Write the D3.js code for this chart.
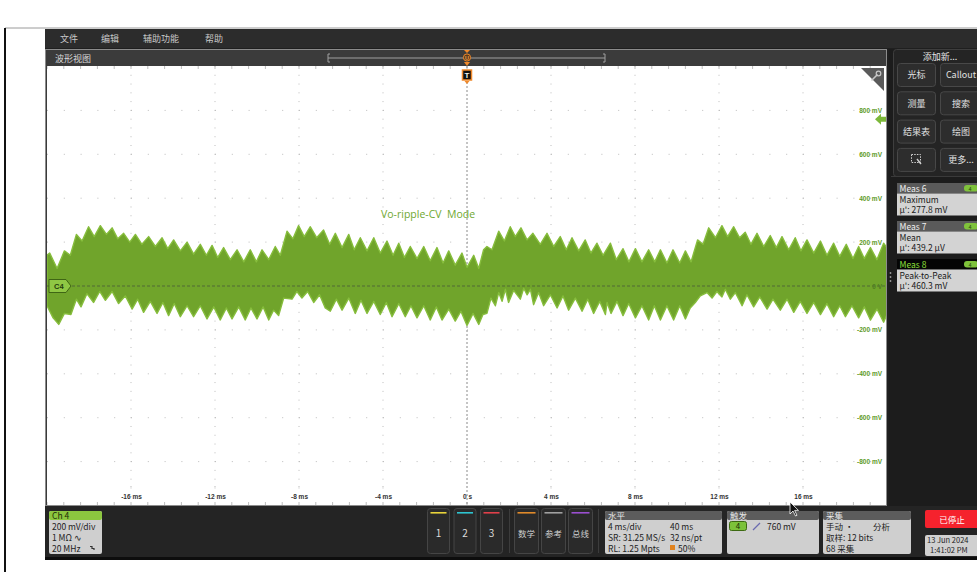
<!DOCTYPE html>
<html>
<head>
<meta charset="utf-8">
<script src="https://cdn.jsdelivr.net/npm/d3@7"></script>
<style>
  body { margin: 0; background: #ffffff; }
  svg { display: block; }
</style>
</head>
<body>
<svg id="scope" width="977" height="572"></svg>
<script>
// ---- Axis ticks ----
const xTicks = [-16, -12, -8, -4, 0, 4, 8, 12, 16];          // ms
const xTickLabels = ["-16 ms", "-12 ms", "-8 ms", "-4 ms", "0 s", "4 ms", "8 ms", "12 ms", "16 ms"];
const yTicks = [800, 600, 400, 200, 0, -200, -400, -600, -800]; // mV
const yTickLabels = ["800 mV", "600 mV", "400 mV", "200 mV", "0 V", "-200 mV", "-400 mV", "-600 mV", "-800 mV"];

// ---- Ch4 ripple envelope (time in ms, level in mV) ----
const upperT = [-20.00,-19.87,-19.52,-19.17,-18.89,-18.60,-18.33,-18.02,-17.75,-17.46,-17.17,-16.90,-16.63,-16.35,-16.06,-15.79,-15.48,-15.16,-14.84,-14.52,-14.25,-13.97,-13.65,-13.33,-13.02,-12.70,-12.41,-12.14,-11.87,-11.59,-11.27,-10.95,-10.63,-10.32,-10.03,-9.76,-9.44,-9.13,-8.89,-8.57,-8.29,-8.02,-7.75,-7.46,-7.16,-6.83,
  -6.54,-6.27,-5.95,-5.63,-5.37,-5.08,-4.76,-4.44,-4.13,-3.81,-3.52,-3.25,-2.98,-2.70,-2.38,-2.06,-1.75,-1.43,-1.14,-0.87,-0.56,-0.24,0.00,0.32,0.56,0.79,0.95,1.19,1.51,1.78,2.06,2.30,2.57,2.86,3.14,3.49,3.81,4.13,4.44,4.73,5.00,5.32,5.63,5.90,6.19,6.48,
  6.83,7.11,7.43,7.71,8.02,8.33,8.65,8.94,9.21,9.52,9.81,10.13,10.40,10.67,10.98,11.24,11.51,11.83,12.14,12.41,12.70,12.98,13.25,13.52,13.81,14.13,14.44,14.73,15.00,15.32,15.63,15.90,16.19,16.51,16.83,17.14,17.46,17.75,18.06,18.38,18.65,18.92,19.21,19.52,19.84,20.00];
const upperV = [140,150,80,160,140,235,205,270,225,275,235,265,215,240,200,235,190,225,180,220,170,210,160,200,145,190,140,185,130,175,120,165,110,165,110,165,120,180,140,250,215,275,225,270,220,255,
  190,240,175,235,165,220,160,220,150,205,140,195,130,180,125,180,115,175,105,160,95,150,85,140,80,165,180,165,250,205,270,225,265,210,240,190,240,180,225,165,220,160,210,150,195,140,
  195,120,170,110,170,110,165,110,165,105,165,105,160,110,210,190,265,220,275,225,270,220,245,190,240,180,230,175,225,165,220,160,210,150,205,140,195,135,190,125,180,125,175,120,195,175];
const lowerT = [-20.00,-19.71,-19.44,-19.17,-18.86,-18.60,-18.38,-18.10,-17.78,-17.49,-17.22,-16.90,-16.59,-16.27,-15.95,-15.68,-15.40,-15.08,-14.76,-14.48,-14.21,-13.94,-13.65,-13.33,-13.02,-12.70,-12.38,-12.06,-11.75,-11.46,-11.19,-10.87,-10.56,-10.29,-10.00,-9.71,-9.44,-9.21,-8.97,-8.73,-8.33,-8.10,-7.86,-7.59,-7.30,-7.02,-6.75,
  -6.51,-6.22,-5.95,-5.63,-5.32,-5.05,-4.76,-4.44,-4.13,-3.84,-3.57,-3.25,-2.94,-2.67,-2.38,-2.06,-1.75,-1.46,-1.19,-0.87,-0.56,-0.29,0.00,0.29,0.56,0.76,0.95,1.14,1.35,1.51,1.67,1.83,1.98,2.22,2.54,2.70,2.86,3.02,3.17,3.41,3.65,3.97,4.29,4.57,4.84,5.16,5.48,5.75,6.03,6.32,6.59,
  6.67,6.86,7.14,7.43,7.70,8.02,8.33,8.65,8.92,9.21,9.52,9.84,10.13,10.40,10.63,10.87,11.11,11.43,11.67,11.90,12.14,12.30,12.54,12.78,13.10,13.33,13.65,13.94,14.29,14.57,14.92,15.24,15.56,15.87,16.19,16.51,16.83,17.14,17.46,17.75,18.02,18.33,18.65,18.92,19.21,19.52,19.84,20.00];
const lowerV = [-90,-145,-175,-125,-130,-60,-95,-35,-75,-25,-65,-25,-80,-45,-105,-60,-120,-70,-125,-75,-135,-80,-140,-90,-140,-90,-150,-95,-155,-100,-150,-95,-155,-100,-150,-95,-155,-110,-135,-55,-60,-25,-55,-25,-75,-40,-100,
  -115,-60,-110,-55,-125,-65,-125,-70,-130,-75,-140,-80,-140,-90,-145,-90,-155,-95,-155,-105,-160,-115,-180,-125,-175,-130,-125,-55,-90,-30,-70,-15,-75,-20,-60,-10,-40,-15,-85,-30,-90,-40,-100,-45,-110,-55,-115,-60,-125,-70,-130,
  -75,-125,-70,-135,-80,-145,-90,-155,-90,-155,-90,-155,-90,-150,-100,-75,-45,-30,-55,-25,-50,-15,-60,-30,-90,-40,-95,-50,-105,-60,-110,-60,-120,-70,-125,-75,-130,-80,-140,-90,-140,-90,-145,-95,-155,-105,-165,-130];

const triggerLevel = 760; // mV

// ---- Measurement badges ----
const measNames = ["Meas 6", "Meas 7", "Meas 8"];
const measTypes = ["Maximum", "Mean", "Peak-to-Peak"];
const measValues = ["μ': 277.8 mV", "μ': 439.2 μV", "μ': 460.3 mV"];

const menuItems = ["文件", "编辑", "辅助功能", "帮助"];
const panelButtons = [["光标", "Callout"], ["测量", "搜索"], ["结果表", "绘图"], ["", "更多..."]];

const UI = "'Noto Sans CJK SC','Noto Sans',sans-serif";
const svg = d3.select("#scope");

// ---- Page frame ----
svg.append("rect").attr("width", 977).attr("height", 572).attr("fill", "#ffffff");
svg.append("line").attr("x1", 5).attr("x2", 977).attr("y1", 28).attr("y2", 28).attr("stroke", "#9a9a9a").attr("stroke-width", 1);
svg.append("line").attr("x1", 5).attr("x2", 5).attr("y1", 28).attr("y2", 572).attr("stroke", "#111").attr("stroke-width", 2);

// ---- Application window ----
svg.append("rect").attr("x", 45).attr("y", 29).attr("width", 932).attr("height", 531).attr("fill", "#0d0d0d");
svg.append("rect").attr("x", 45).attr("y", 29).attr("width", 932).attr("height", 528).attr("fill", "#1f1f1f");
svg.append("rect").attr("x", 45).attr("y", 29).attr("width", 932).attr("height", 19).attr("fill", "#2c2c2c");
const menuX = [60, 101, 143, 205];
menuItems.forEach((m, i) => {
  svg.append("text").attr("x", menuX[i]).attr("y", 41.5).text(m)
    .attr("font-family", UI).attr("font-size", 9).attr("fill", "#c8c8c8");
});

// ---- Waveform view panel ----
svg.append("rect").attr("x", 45.5).attr("y", 49.5).attr("width", 841).attr("height", 456).attr("fill", "#3b3b3b").attr("stroke", "#8c8c8c");
svg.append("text").attr("x", 55).attr("y", 61.5).text("波形视图")
  .attr("font-family", UI).attr("font-size", 9).attr("fill", "#d8d8d8");

const x = d3.scaleLinear().domain([-20, 20]).range([47, 887]);
const y = d3.scaleLinear().domain([-1000, 1000]).range([505.5, 66.5]);

// zoom overview bar in the header
const ov = svg.append("g").attr("stroke", "#a0a0a0").attr("fill", "none");
ov.append("line").attr("x1", 328).attr("x2", 605).attr("y1", 58).attr("y2", 58);
ov.append("path").attr("d", "M330,54 H328 V62 H330");
ov.append("path").attr("d", "M603,54 H605 V62 H603");

// plot area
svg.append("rect").attr("x", 47).attr("y", 66).attr("width", 839).attr("height", 439).attr("fill", "#ffffff");
svg.append("defs").append("clipPath").attr("id", "plotClip")
  .append("rect").attr("x", 47).attr("y", 66).attr("width", 839).attr("height", 439);

const plot = svg.append("g").attr("clip-path", "url(#plotClip)");

// graticule: dotted division lines
const xDiv = d3.range(-20, 20.01, 4);
const yDiv = d3.range(-1000, 1000.1, 200);
xDiv.filter(d => d !== 0 && Math.abs(d) < 20).forEach(d => {
  plot.append("line").attr("x1", x(d)).attr("x2", x(d)).attr("y1", 66).attr("y2", 505)
    .attr("stroke", "#bcbcbc").attr("stroke-width", 1).attr("stroke-dasharray", "1,7.78");
});
yDiv.filter(d => d !== 0 && Math.abs(d) < 1000).forEach(d => {
  plot.append("line").attr("x1", 47).attr("x2", 887).attr("y1", y(d)).attr("y2", y(d))
    .attr("stroke", "#bcbcbc").attr("stroke-width", 1).attr("stroke-dasharray", "1,15.8");
});
// minor ticks along the top and bottom edges
d3.range(-20, 20.01, 0.8).forEach(d => {
  plot.append("line").attr("x1", x(d)).attr("x2", x(d)).attr("y1", 66).attr("y2", 69).attr("stroke", "#bdbdbd");
  plot.append("line").attr("x1", x(d)).attr("x2", x(d)).attr("y1", 502).attr("y2", 505).attr("stroke", "#bdbdbd");
});

// center time line (trigger position)
plot.append("line").attr("x1", x(0)).attr("x2", x(0)).attr("y1", 66).attr("y2", 505)
  .attr("stroke", "#8a8a8a").attr("stroke-width", 1).attr("stroke-dasharray", "2,2");

// ---- Ch4 waveform band ----
const upperPts = upperT.map((t, i) => [x(t), y(upperV[i])]);
const lowerPts = lowerT.map((t, i) => [x(t), y(lowerV[i])]).reverse();
const band = upperPts.concat(lowerPts);
plot.append("path").attr("d", d3.line()(band) + "Z")
  .attr("fill", "#70a42b").attr("stroke", "#86bd3c").attr("stroke-width", 1.4).attr("stroke-linejoin", "round");

// ground reference line of Ch4
plot.append("line").attr("x1", 47).attr("x2", 887).attr("y1", y(0)).attr("y2", y(0))
  .attr("stroke", "#4b5a3a").attr("stroke-width", 1).attr("stroke-dasharray", "3,2").attr("opacity", 0.8);

// annotation
plot.append("text").attr("x", 381).attr("y", 217.5).attr("xml:space", "preserve")
  .text("Vo-ripple-CV  Mode").attr("font-family", "'Open Sans','Noto Sans',sans-serif")
  .attr("font-size", 10.5).attr("fill", "#6fa830");

// ---- Axes ----
const yAxis = d3.axisLeft(y).tickValues(yTicks).tickSize(0).tickPadding(0)
  .tickFormat((d, i) => yTickLabels[i]);
const gy = svg.append("g").attr("transform", "translate(882,0)").call(yAxis);
gy.select(".domain").remove();
gy.selectAll("text").attr("font-family", "'Liberation Sans',Arial,sans-serif").attr("font-size", 6.5)
  .attr("font-weight", "bold").attr("fill", (d) => d === 0 ? "#4f7d22" : "#5d9a27");

const xAxis = d3.axisBottom(x).tickValues(xTicks).tickSize(0).tickPadding(0)
  .tickFormat((d, i) => xTickLabels[i]);
const gx = svg.append("g").attr("transform", "translate(0,494.5)").call(xAxis);
gx.select(".domain").remove();
gx.selectAll("text").attr("font-family", "'Liberation Sans',Arial,sans-serif").attr("font-size", 6.5)
  .attr("font-weight", "bold").attr("fill", "#333");
// small graticule marks above the time labels
xTicks.forEach(d => {
  svg.append("rect").attr("x", x(d) - 0.5).attr("y", 486).attr("width", 1).attr("height", 1).attr("fill", "#bbb");
});

// ---- Channel marker C4 ----
const c4y = y(0);
svg.append("path").attr("d", `M49,${c4y - 6.5} H66 L71,${c4y} L66,${c4y + 6.5} H49 Z`)
  .attr("fill", "#8fc744").attr("stroke", "#3f6614").attr("stroke-width", 1);
svg.append("text").attr("x", 54).attr("y", c4y + 3).text("C4")
  .attr("font-family", "'Liberation Sans',Arial,sans-serif").attr("font-size", 7.5).attr("font-weight", "bold").attr("fill", "#263d0c");

// trigger level arrow on the right edge
const ty = y(triggerLevel);
svg.append("path").attr("d", `M875,${ty} L881,${ty - 5.5} V${ty - 2.5} H886 V${ty + 2.5} H881 V${ty + 5.5} Z`)
  .attr("fill", "#7cb83a");

// trigger position markers
const tx = x(0);
svg.append("path").attr("d", `M${tx - 3},50 H${tx + 3} L${tx},53 Z`).attr("fill", "#f0892a");
svg.append("circle").attr("cx", tx).attr("cy", 57.5).attr("r", 3.6).attr("fill", "#5a3a1a").attr("stroke", "#f0892a").attr("stroke-width", 1);
svg.append("text").attr("x", tx).attr("y", 59.8).attr("text-anchor", "middle").text("U")
  .attr("font-family", "'Liberation Sans',Arial,sans-serif").attr("font-size", 5.5).attr("font-weight", "bold").attr("fill", "#f0a050");
svg.append("path").attr("d", `M${tx - 3},62 H${tx + 3} L${tx},66 Z`).attr("fill", "#f0892a");
svg.append("rect").attr("x", tx - 4.5).attr("y", 70).attr("width", 9).attr("height", 10).attr("fill", "#111").attr("stroke", "#f0892a").attr("stroke-width", 1.5);
svg.append("text").attr("x", tx).attr("y", 78.3).attr("text-anchor", "middle").text("T")
  .attr("font-family", "'Liberation Sans',Arial,sans-serif").attr("font-size", 8).attr("font-weight", "bold").attr("fill", "#f2f2f2");
svg.append("path").attr("d", `M${tx - 2.5},81 H${tx + 2.5} L${tx},84 Z`).attr("fill", "#f0892a");

// wrench corner
svg.append("path").attr("d", "M861,68 H884 V91 Z").attr("fill", "#5a5a5a");
svg.append("path").attr("d", "M871.5,80.5 L877.5,74.5").attr("stroke", "#c8c8c8").attr("stroke-width", 1.6);
svg.append("circle").attr("cx", 878.5).attr("cy", 73.5).attr("r", 2.3).attr("fill", "none").attr("stroke", "#c8c8c8").attr("stroke-width", 1.2);

// ---- Right side panel ----
svg.append("rect").attr("x", 889).attr("y", 49).attr("width", 88).attr("height", 457).attr("fill", "#1c1c1c");
svg.append("rect").attr("x", 893.5).attr("y", 49.5).attr("width", 92).attr("height", 127).attr("rx", 3)
  .attr("fill", "#242424").attr("stroke", "#3e3e3e");
svg.append("text").attr("x", 940).attr("y", 60).attr("text-anchor", "middle").text("添加新...")
  .attr("font-family", UI).attr("font-size", 9).attr("fill", "#e6e6e6");
panelButtons.forEach((row, r) => {
  const cy = 75 + r * 28.3;
  row.forEach((label, c) => {
    const bx = c === 0 ? 897.5 : 940.5;
    svg.append("rect").attr("x", bx).attr("y", cy - 11.5).attr("width", c === 0 ? 38 : 42).attr("height", 23).attr("rx", 3)
      .attr("fill", "#2d2d2d").attr("stroke", "#484848");
    if (label) {
      svg.append("text").attr("x", c === 0 ? 916.5 : 961).attr("y", cy + 3.3).attr("text-anchor", "middle").text(label)
        .attr("font-family", UI).attr("font-size", 9).attr("fill", "#e0e0e0");
    }
  });
});
// zoom-box icon button glyph
svg.append("rect").attr("x", 911.5).attr("y", 154.5).attr("width", 9).attr("height", 8)
  .attr("fill", "none").attr("stroke", "#d0d0d0").attr("stroke-dasharray", "1.5,1.2");
svg.append("path").attr("d", "M917,159 L921,164").attr("stroke", "#d0d0d0").attr("stroke-width", 1.4);
svg.append("line").attr("x1", 891).attr("x2", 977).attr("y1", 176.5).attr("y2", 176.5).attr("stroke", "#3a3a3a");

measNames.forEach((name, i) => {
  const top = 183 + i * 38;
  const active = i === 2;
  svg.append("rect").attr("x", 897).attr("y", top).attr("width", 82).attr("height", 10.5)
    .attr("fill", active ? "#050505" : "#5a5a5a");
  svg.append("rect").attr("x", 897).attr("y", top + 10.5).attr("width", 82).attr("height", 22)
    .attr("fill", "#d3d3d3");
  svg.append("text").attr("x", 899.5).attr("y", top + 8.6).text(name)
    .attr("font-family", UI).attr("font-size", 8.5).attr("fill", active ? "#8fe03a" : "#f0f0f0");
  svg.append("rect").attr("x", 964).attr("y", top + 2).attr("width", 14).attr("height", 6.5).attr("rx", 3).attr("fill", "#7fc23b");
  svg.append("text").attr("x", 970).attr("y", top + 7.5).attr("text-anchor", "middle").text("4")
    .attr("font-family", UI).attr("font-size", 5.5).attr("fill", "#2b4a0c");
  svg.append("text").attr("x", 899.5).attr("y", top + 19.5).text(measTypes[i])
    .attr("font-family", UI).attr("font-size", 8.5).attr("fill", "#1a1a1a");
  svg.append("text").attr("x", 899.5).attr("y", top + 30).text(measValues[i])
    .attr("font-family", UI).attr("font-size", 8.5).attr("fill", "#1a1a1a");
});
[273, 277, 281].forEach(cy => svg.append("circle").attr("cx", 890.5).attr("cy", cy).attr("r", 0.9).attr("fill", "#9a9a9a"));

// ---- Bottom control bar ----
svg.append("rect").attr("x", 45).attr("y", 506).attr("width", 932).attr("height", 51).attr("fill", "#242424");

function infoBox(x0, w, title, titleBg, titleColor) {
  svg.append("rect").attr("x", x0).attr("y", 511).attr("width", w).attr("height", 43).attr("rx", 2).attr("fill", "#cfcfcf");
  svg.append("rect").attr("x", x0).attr("y", 511).attr("width", w).attr("height", 9).attr("rx", 2).attr("fill", titleBg);
  svg.append("text").attr("x", x0 + 3).attr("y", 518.5).text(title)
    .attr("font-family", UI).attr("font-size", 8.5).attr("fill", titleColor);
}
function boxText(tx0, ty0, s, color, size) {
  svg.append("text").attr("x", tx0).attr("y", ty0).text(s)
    .attr("font-family", UI).attr("font-size", size || 8.5).attr("fill", color || "#222");
}

infoBox(49, 53, "Ch 4", "#8cc63f", "#1b2e06");
boxText(52, 529.5, "200 mV/div");
boxText(52, 540.5, "1 MΩ  ∿");
boxText(52, 551.5, "20 MHz");
svg.append("path").attr("d", "M90,546.5 h2 v2 h2 v1.5").attr("stroke", "#333").attr("fill", "none").attr("stroke-width", 1.2);

const chBtns = [["1", "#e8d33a"], ["2", "#2ec4d0"], ["3", "#e0404a"]];
chBtns.forEach((b, i) => {
  const bx = 427.5 + i * 26.5;
  svg.append("rect").attr("x", bx).attr("y", 508.5).attr("width", 22).attr("height", 45).attr("rx", 3)
    .attr("fill", "#2a2a2a").attr("stroke", "#454545");
  svg.append("rect").attr("x", bx + 3).attr("y", 512).attr("width", 16).attr("height", 1.6).attr("fill", b[1]);
  svg.append("text").attr("x", bx + 11).attr("y", 537).attr("text-anchor", "middle").text(b[0])
    .attr("font-family", UI).attr("font-size", 10).attr("fill", "#dddddd");
});
svg.append("line").attr("x1", 509.5).attr("x2", 509.5).attr("y1", 509).attr("y2", 553).attr("stroke", "#3c3c3c");
const fnBtns = [["数学", "#e08a2a"], ["参考", "#a0a0a0"], ["总线", "#9a4fd0"]];
fnBtns.forEach((b, i) => {
  const bx = 514.5 + i * 27;
  svg.append("rect").attr("x", bx).attr("y", 508.5).attr("width", 24).attr("height", 45).attr("rx", 3)
    .attr("fill", "#2a2a2a").attr("stroke", "#454545");
  svg.append("rect").attr("x", bx + 3).attr("y", 512).attr("width", 18).attr("height", 1.6).attr("fill", b[1]);
  svg.append("text").attr("x", bx + 12).attr("y", 537).attr("text-anchor", "middle").text(b[0])
    .attr("font-family", UI).attr("font-size", 8.5).attr("fill", "#cfcfcf");
});
svg.append("line").attr("x1", 598.5).attr("x2", 598.5).attr("y1", 509).attr("y2", 553).attr("stroke", "#3c3c3c");

infoBox(605, 117, "水平", "#5c5c5c", "#e8e8e8");
boxText(608, 529.5, "4 ms/div");
boxText(670, 529.5, "40 ms");
boxText(608, 540.5, "SR: 31.25 MS/s");
boxText(670, 540.5, "32 ns/pt");
boxText(608, 551.5, "RL: 1.25 Mpts");
svg.append("rect").attr("x", 670).attr("y", 545).attr("width", 5).attr("height", 5).attr("fill", "#e0821e");
boxText(678, 551.5, "50%");

infoBox(727, 92, "触发", "#5c5c5c", "#e8e8e8");
svg.append("rect").attr("x", 729.5).attr("y", 521.5).attr("width", 17).attr("height", 9).attr("rx", 2).attr("fill", "#7cc23a").attr("stroke", "#3d6a12");
svg.append("text").attr("x", 738).attr("y", 529).attr("text-anchor", "middle").text("4")
  .attr("font-family", UI).attr("font-size", 8).attr("fill", "#1a2e06");
svg.append("path").attr("d", "M753,530 L760,523").attr("stroke", "#6a6ab0").attr("stroke-width", 1.2);
boxText(767, 529.5, "760 mV");

infoBox(823, 88, "采集", "#5c5c5c", "#e8e8e8");
boxText(826, 529.5, "手动 ·");
boxText(873, 529.5, "分析");
boxText(826, 540.5, "取样: 12 bits");
boxText(826, 551.5, "68 采集");

svg.append("rect").attr("x", 925).attr("y", 510).attr("width", 56).attr("height", 18).attr("rx", 2).attr("fill", "#f5222d");
svg.append("text").attr("x", 952).attr("y", 522.5).attr("text-anchor", "middle").text("已停止")
  .attr("font-family", UI).attr("font-size", 8.5).attr("fill", "#ffffff");
svg.append("rect").attr("x", 925).attr("y", 535).attr("width", 56).attr("height", 21).attr("rx", 2).attr("fill", "#d0d0d0");
boxText(927, 543, "13 Jun 2024", "#222", 7.5);
boxText(930, 553, "1:41:02 PM", "#222", 7.5);

// mouse pointer
svg.append("path").attr("d", "M790,502 V514 L793,511 L795.5,516 L797,515.3 L794.6,510.4 L798.5,510.4 Z")
  .attr("fill", "#111").attr("stroke", "#fff").attr("stroke-width", 0.8);
</script>
</body>
</html>
